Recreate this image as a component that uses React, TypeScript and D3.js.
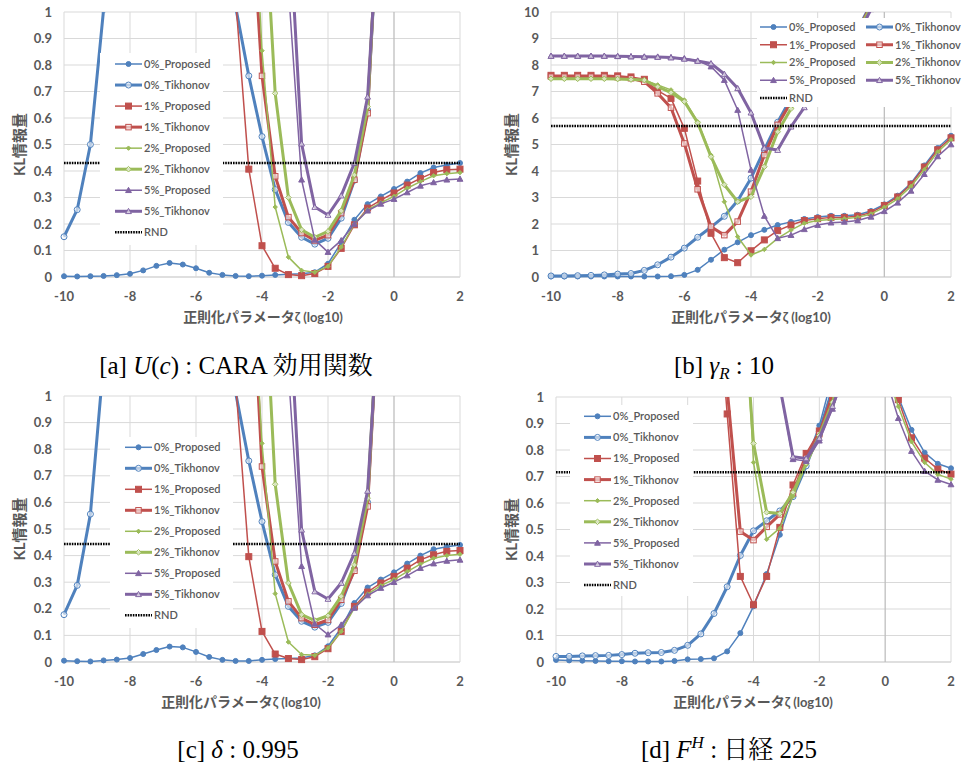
import React from "react";
import * as d3 from "d3";

// 正則化パラメータ ζ (log10)
const zeta = [-10, -9.6, -9.2, -8.8, -8.4, -8, -7.6, -7.2, -6.8, -6.4, -6, -5.6, -5.2, -4.8, -4.4, -4, -3.6, -3.2, -2.8, -2.4, -2, -1.6, -1.2, -0.8, -0.4, 0, 0.4, 0.8, 1.2, 1.6, 2];
const xTicks = [-10, -8, -6, -4, -2, 0, 2];
const yTicksUnit = [0, 0.1, 0.2, 0.3, 0.4, 0.5, 0.6, 0.7, 0.8, 0.9, 1];
const yTicksTen = [0, 1, 2, 3, 4, 5, 6, 7, 8, 9, 10];
const seriesNames = ["0%_Proposed", "0%_Tikhonov", "1%_Proposed", "1%_Tikhonov", "2%_Proposed", "2%_Tikhonov", "5%_Proposed", "5%_Tikhonov"];

// [a] CARA
const aP0 = [0.003, 0.002, 0.003, 0.004, 0.007, 0.012, 0.025, 0.042, 0.053, 0.047, 0.033, 0.016, 0.008, 0.004, 0.003, 0.005, 0.008, 0.010, 0.012, 0.018, 0.050, 0.130, 0.216, 0.275, 0.304, 0.332, 0.360, 0.392, 0.413, 0.423, 0.430];
const aT0 = [0.152, 0.254, 0.500, 1.01, 1.9, 2.7, 3.3, 3.7, 3.9, 3.8, 3.5, 3.0, 2.2, 1.02, 0.759, 0.530, 0.330, 0.206, 0.150, 0.124, 0.146, 0.222, 0.365, 0.630, 1.55, 2.5, 3.4, 4.2, 4.9, 5.5, 6.0];
const aP1 = [4.5, 4.5, 4.6, 4.6, 4.7, 4.7, 4.6, 4.5, 4.3, 4.0, 3.6, 3.0, 2.2, 1.05, 0.407, 0.118, 0.033, 0.009, 0.005, 0.013, 0.040, 0.108, 0.197, 0.260, 0.290, 0.317, 0.347, 0.372, 0.394, 0.405, 0.407];
const aT1 = [4.8, 4.8, 4.9, 4.9, 5.0, 5.0, 4.9, 4.8, 4.6, 4.3, 3.9, 3.4, 2.8, 2.2, 1.56, 0.759, 0.380, 0.226, 0.166, 0.138, 0.158, 0.241, 0.367, 0.618, 1.6, 2.6, 3.5, 4.3, 5.0, 5.6, 6.1];
const aP2 = [4.2, 4.2, 4.3, 4.3, 4.4, 4.4, 4.3, 4.2, 4.0, 3.8, 3.5, 3.1, 2.6, 2.2, 1.83, 0.854, 0.264, 0.075, 0.025, 0.018, 0.040, 0.113, 0.200, 0.254, 0.280, 0.304, 0.335, 0.360, 0.382, 0.390, 0.394];
const aT2 = [4.6, 4.6, 4.7, 4.7, 4.8, 4.8, 4.7, 4.6, 4.4, 4.1, 3.8, 3.3, 2.8, 2.3, 1.9, 1.57, 0.693, 0.300, 0.178, 0.150, 0.172, 0.250, 0.385, 0.643, 1.55, 2.5, 3.4, 4.2, 4.9, 5.5, 6.0];
const aP5 = [5.2, 5.2, 5.3, 5.3, 5.4, 5.4, 5.3, 5.2, 5.0, 4.7, 4.3, 3.8, 3.2, 2.6, 2.0, 1.6, 1.3, 1.09, 0.367, 0.140, 0.094, 0.138, 0.200, 0.250, 0.276, 0.294, 0.319, 0.344, 0.357, 0.367, 0.370];
const aT5 = [5.5, 5.5, 5.6, 5.6, 5.7, 5.7, 5.6, 5.5, 5.3, 5.0, 4.6, 4.1, 3.5, 2.9, 2.4, 2.0, 1.7, 1.41, 0.503, 0.264, 0.234, 0.307, 0.430, 0.680, 1.5, 2.4, 3.3, 4.1, 4.8, 5.4, 5.9];
const rndA = 0.43;

// [b] gamma_R = 10
const bP0 = [0.02, 0.02, 0.02, 0.02, 0.02, 0.02, 0.02, 0.02, 0.02, 0.03, 0.08, 0.27, 0.65, 1.03, 1.31, 1.58, 1.78, 1.96, 2.08, 2.19, 2.26, 2.31, 2.31, 2.35, 2.49, 2.74, 3.07, 3.54, 4.21, 4.87, 5.33];
const bT0 = [0.04, 0.04, 0.05, 0.06, 0.08, 0.11, 0.13, 0.25, 0.46, 0.75, 1.09, 1.50, 1.88, 2.29, 2.88, 3.73, 4.80, 5.84, 6.75, 7.40, 7.90, 8.35, 8.80, 9.35, 10.3, 11.3, 12.3, 13.3, 14.3, 15.3, 16.3];
const bP1 = [7.61, 7.61, 7.61, 7.61, 7.61, 7.59, 7.55, 7.46, 7.03, 6.74, 5.61, 3.62, 1.65, 0.73, 0.54, 0.99, 1.40, 1.75, 1.96, 2.13, 2.20, 2.25, 2.25, 2.30, 2.43, 2.70, 3.02, 3.50, 4.15, 4.80, 5.25];
const bT1 = [7.56, 7.56, 7.56, 7.56, 7.56, 7.54, 7.50, 7.37, 6.93, 6.39, 5.04, 3.31, 1.90, 1.58, 2.09, 3.22, 4.60, 5.74, 6.60, 7.30, 7.85, 8.30, 8.75, 9.30, 10.25, 11.2, 12.2, 13.2, 14.2, 15.2, 16.2];
const bP2 = [7.48, 7.48, 7.48, 7.48, 7.48, 7.47, 7.45, 7.43, 7.25, 7.06, 6.68, 5.86, 4.60, 2.84, 1.52, 0.83, 1.04, 1.46, 1.77, 2.03, 2.13, 2.17, 2.20, 2.25, 2.38, 2.63, 2.95, 3.42, 4.05, 4.72, 5.18];
const bT2 = [7.48, 7.48, 7.48, 7.48, 7.48, 7.47, 7.45, 7.43, 7.18, 6.96, 6.62, 5.82, 4.54, 3.48, 2.84, 3.03, 4.16, 5.48, 6.35, 7.10, 7.70, 8.20, 8.70, 9.25, 10.2, 11.2, 12.2, 13.2, 14.2, 15.2, 16.2];
const bP5 = [8.34, 8.34, 8.34, 8.34, 8.34, 8.33, 8.32, 8.31, 8.31, 8.29, 8.25, 8.16, 7.94, 7.43, 6.30, 4.04, 2.30, 1.46, 1.58, 1.80, 1.96, 2.05, 2.08, 2.13, 2.27, 2.48, 2.80, 3.25, 3.88, 4.55, 5.00];
const bT5 = [8.34, 8.34, 8.34, 8.34, 8.34, 8.33, 8.32, 8.31, 8.30, 8.28, 8.23, 8.15, 8.06, 7.66, 7.12, 6.20, 4.87, 4.79, 5.67, 6.40, 7.10, 7.80, 8.40, 9.10, 10.1, 11.1, 12.1, 13.1, 14.1, 15.1, 16.1];
const rndB = 5.7;

// [c] delta = 0.995
const cP0 = [0.005, 0.003, 0.002, 0.006, 0.009, 0.015, 0.030, 0.045, 0.058, 0.055, 0.038, 0.019, 0.008, 0.004, 0.004, 0.008, 0.011, 0.013, 0.015, 0.025, 0.059, 0.128, 0.222, 0.280, 0.310, 0.337, 0.370, 0.400, 0.424, 0.433, 0.440];
const cT0 = [0.178, 0.288, 0.556, 1.13, 2.0, 2.8, 3.4, 3.8, 4.0, 3.9, 3.6, 3.0, 2.2, 1.013, 0.756, 0.528, 0.328, 0.209, 0.153, 0.131, 0.149, 0.220, 0.350, 0.600, 1.5, 2.4, 3.3, 4.1, 4.8, 5.4, 5.9];
const cP1 = [4.5, 4.5, 4.6, 4.6, 4.7, 4.7, 4.6, 4.5, 4.3, 4.0, 3.6, 3.0, 2.2, 1.05, 0.396, 0.115, 0.030, 0.013, 0.009, 0.020, 0.050, 0.115, 0.209, 0.263, 0.297, 0.322, 0.353, 0.384, 0.403, 0.416, 0.419];
const cT1 = [4.8, 4.8, 4.9, 4.9, 5.0, 5.0, 4.9, 4.8, 4.6, 4.3, 3.9, 3.4, 2.8, 2.3, 1.7, 0.735, 0.378, 0.228, 0.165, 0.140, 0.158, 0.234, 0.343, 0.585, 1.5, 2.5, 3.4, 4.2, 4.9, 5.5, 6.0];
const cP2 = [4.2, 4.2, 4.3, 4.3, 4.4, 4.4, 4.3, 4.2, 4.0, 3.8, 3.5, 3.1, 2.6, 2.2, 1.71, 0.822, 0.257, 0.075, 0.028, 0.025, 0.053, 0.115, 0.203, 0.255, 0.287, 0.310, 0.340, 0.368, 0.390, 0.400, 0.405];
const cT2 = [4.6, 4.6, 4.7, 4.7, 4.8, 4.8, 4.7, 4.6, 4.4, 4.1, 3.8, 3.3, 2.8, 2.3, 1.9, 1.62, 0.668, 0.297, 0.178, 0.156, 0.174, 0.247, 0.365, 0.616, 1.5, 2.4, 3.3, 4.1, 4.8, 5.4, 5.9];
const cP5 = [5.2, 5.2, 5.3, 5.3, 5.4, 5.4, 5.3, 5.2, 5.0, 4.7, 4.3, 3.8, 3.2, 2.6, 2.0, 1.6, 1.3, 1.09, 0.360, 0.143, 0.103, 0.140, 0.203, 0.250, 0.278, 0.300, 0.325, 0.353, 0.370, 0.380, 0.384];
const cT5 = [5.5, 5.5, 5.6, 5.6, 5.7, 5.7, 5.6, 5.5, 5.3, 5.0, 4.6, 4.1, 3.5, 2.9, 2.4, 2.0, 1.7, 1.41, 0.497, 0.265, 0.237, 0.297, 0.409, 0.643, 1.45, 2.4, 3.3, 4.1, 4.8, 5.4, 5.9];
const rndC = 0.444;

// [d] F^H 日経225
const dP0 = [0.008, 0.006, 0.005, 0.004, 0.003, 0.003, 0.002, 0.002, 0.002, 0.004, 0.010, 0.011, 0.014, 0.040, 0.109, 0.210, 0.332, 0.480, 0.630, 0.760, 0.892, 1.08, 1.25, 1.40, 1.40, 1.15, 1.00, 0.876, 0.790, 0.748, 0.731];
const dT0 = [0.021, 0.021, 0.023, 0.024, 0.025, 0.028, 0.033, 0.035, 0.036, 0.044, 0.063, 0.106, 0.183, 0.284, 0.402, 0.495, 0.533, 0.570, 0.624, 0.740, 0.870, 1.03, 1.20, 1.35, 1.45, 1.50, 1.50, 1.45, 1.40, 1.35, 1.30];
const dP1 = [3.0, 3.0, 3.0, 3.0, 3.1, 3.1, 3.0, 2.9, 2.8, 2.6, 2.3, 2.0, 1.58, 0.936, 0.323, 0.216, 0.323, 0.508, 0.668, 0.787, 0.872, 1.00, 1.20, 1.35, 1.35, 1.12, 0.99, 0.846, 0.769, 0.728, 0.709];
const dT1 = [3.2, 3.2, 3.2, 3.2, 3.3, 3.3, 3.2, 3.1, 3.0, 2.8, 2.5, 2.2, 1.8, 1.03, 0.492, 0.460, 0.510, 0.557, 0.636, 0.770, 0.860, 1.01, 1.18, 1.32, 1.42, 1.48, 1.48, 1.43, 1.38, 1.33, 1.28];
const dP2 = [2.8, 2.8, 2.8, 2.8, 2.9, 2.9, 2.8, 2.7, 2.6, 2.5, 2.3, 2.1, 1.9, 1.75, 1.65, 0.753, 0.463, 0.505, 0.625, 0.745, 0.845, 0.970, 1.15, 1.30, 1.30, 1.10, 0.964, 0.831, 0.753, 0.708, 0.690];
const dT2 = [3.0, 3.0, 3.0, 3.0, 3.1, 3.1, 3.0, 2.9, 2.8, 2.6, 2.4, 2.1, 1.9, 1.7, 1.53, 0.825, 0.565, 0.560, 0.640, 0.750, 0.855, 0.980, 1.15, 1.30, 1.40, 1.45, 1.45, 1.40, 1.35, 1.30, 1.25];
const dP5 = [3.3, 3.3, 3.3, 3.3, 3.4, 3.4, 3.3, 3.2, 3.1, 2.9, 2.7, 2.4, 2.1, 1.8, 1.5, 1.3, 1.15, 1.04, 0.765, 0.758, 0.835, 0.955, 1.10, 1.25, 1.25, 1.08, 0.920, 0.796, 0.720, 0.687, 0.670];
const dT5 = [3.5, 3.5, 3.5, 3.5, 3.6, 3.6, 3.5, 3.4, 3.3, 3.1, 2.9, 2.6, 2.3, 2.0, 1.7, 1.45, 1.2, 1.04, 0.775, 0.768, 0.845, 0.965, 1.10, 1.25, 1.35, 1.40, 1.40, 1.35, 1.30, 1.25, 1.20];
const rndD = 0.716;

const BLUE = "#4F81BD";
const RED = "#C0504D";
const GREEN = "#9BBB59";
const PURPLE = "#8064A2";
const TXT = "#595959";
const UI = "Lato, 'Noto Sans CJK JP', sans-serif";
const SERIF = "'Liberation Serif', 'Noto Serif CJK JP', 'Noto Sans CJK JP', serif";

const styles = [
  { color: BLUE, width: 1.5, marker: "circle", filled: true },
  { color: BLUE, width: 3, marker: "circle", filled: false },
  { color: RED, width: 1.5, marker: "square", filled: true },
  { color: RED, width: 3, marker: "square", filled: false },
  { color: GREEN, width: 1.5, marker: "diamond", filled: true },
  { color: GREEN, width: 3, marker: "diamond", filled: false },
  { color: PURPLE, width: 1.5, marker: "triangle", filled: true },
  { color: PURPLE, width: 3, marker: "triangle", filled: false },
];

function Marker({ kind, filled, color, x, y }: any) {
  const fill = filled ? color : "#ffffff";
  const fo = filled ? 1 : 0.6;
  if (kind === "circle") {
    return <circle cx={x} cy={y} r={filled ? 2.5 : 3} fill={fill} fillOpacity={fo} stroke={color} strokeWidth={1} />;
  }
  if (kind === "square") {
    const s = filled ? 6 : 5.5;
    return <rect x={x - s / 2} y={y - s / 2} width={s} height={s} fill={fill} fillOpacity={fo} stroke={color} strokeWidth={1} />;
  }
  if (kind === "diamond") {
    const h = filled ? 2.2 : 2.8;
    return <path d={`M${x},${y - h}L${x + h},${y}L${x},${y + h}L${x - h},${y}Z`} fill={fill} fillOpacity={fo} stroke={color} strokeWidth={1} />;
  }
  const h = 2.9;
  return <path d={`M${x},${y - h}L${x + h},${y + h * 0.8}L${x - h},${y + h * 0.8}Z`} fill={fill} fillOpacity={fo} stroke={color} strokeWidth={1} />;
}

function Panel({ cfg }: any) {
  const x = d3.scaleLinear().domain([-10, 2]).range([cfg.x0, cfg.x1]);
  const y = d3.scaleLinear().domain([0, cfg.yMax]).range([cfg.yBot, cfg.yTop]);
  const line = d3.line<number>().x((_, i) => x(zeta[i])).y((v) => y(v));
  const clipId = "clip-" + cfg.id;
  const fmt = cfg.yMax === 1 ? (v: number) => (v === 0 || v === 1 ? String(v) : v.toFixed(1)) : (v: number) => String(v);
  const lg = cfg.legend;
  const entries = [...seriesNames, "RND"];
  return (
    <g>
      <defs>
        <clipPath id={clipId}>
          <rect x={cfg.x0 - 6} y={cfg.yTop} width={cfg.x1 - cfg.x0 + 12} height={cfg.yBot - cfg.yTop + 6} />
        </clipPath>
      </defs>
      {cfg.yTicks.map((t: number) => (
        <line key={"h" + t} x1={cfg.x0} x2={cfg.x1} y1={y(t)} y2={y(t)} stroke={t === 0 ? "#BFBFBF" : "#D9D9D9"} strokeWidth={1} />
      ))}
      {xTicks.map((t) => (
        <line key={"v" + t} x1={x(t)} x2={x(t)} y1={cfg.yTop} y2={cfg.yBot} stroke={t === 0 ? "#BFBFBF" : "#D9D9D9"} strokeWidth={t === 0 ? 1.3 : 1} />
      ))}
      <g clipPath={`url(#${clipId})`}>
        {cfg.series.map((s: number[], k: number) => {
          const st = styles[k];
          return (
            <g key={"s" + k}>
              <path d={line(s) || ""} fill="none" stroke={st.color} strokeWidth={st.width} strokeLinejoin="round" />
              {s.map((v, i) =>
                v <= cfg.yMax * 1.02 ? (
                  <Marker key={i} kind={st.marker} filled={st.filled} color={st.color} x={x(zeta[i])} y={y(v)} />
                ) : null
              )}
            </g>
          );
        })}
        <line x1={x(zeta[0])} x2={x(zeta[zeta.length - 1])} y1={y(cfg.rnd)} y2={y(cfg.rnd)} stroke="#000" strokeWidth={2.5} strokeDasharray="1.6,1" />
      </g>
      {cfg.yTicks.map((t: number) => (
        <text key={"yl" + t} x={cfg.x0 - 12} y={y(t)} dy="0.36em" textAnchor="end" fontFamily={UI} fontSize={13} fontWeight={700} fill={TXT}>
          {fmt(t)}
        </text>
      ))}
      {xTicks.map((t) => (
        <text key={"xl" + t} x={x(t)} y={cfg.yBot + 24} textAnchor="middle" fontFamily={UI} fontSize={13} fontWeight={700} fill={TXT}>
          {String(t)}
        </text>
      ))}
      <text x={cfg.xTitleX} y={cfg.yBot + 45} textAnchor="middle" fontFamily={UI} fill={TXT} fontWeight={700}>
        <tspan fontSize={14}>正則化パラメータ</tspan>
        <tspan fontSize={13}>{"ζ (log10)"}</tspan>
      </text>
      <text
        transform={`translate(${cfg.yTitleX},${(cfg.yTop + cfg.yBot) / 2}) rotate(-90)`}
        textAnchor="middle"
        dy="0.36em"
        fontFamily={UI}
        fontSize={15}
        fontWeight={700}
        fill={TXT}
      >
        KL情報量
      </text>
      <rect x={lg.left} y={lg.top} width={lg.right - lg.left} height={lg.bottom - lg.top} fill="#ffffff" />
      {entries.map((name, k) => {
        const col = lg.lineX.length === 2 ? k % 2 : 0;
        const row = lg.lineX.length === 2 ? Math.floor(k / 2) : k;
        const lx = lg.lineX[col];
        const ly = lg.rowY0 + row * lg.dy;
        const st = styles[k];
        return (
          <g key={"lg" + k}>
            {st ? (
              <>
                <line x1={lx} x2={lx + 27} y1={ly} y2={ly} stroke={st.color} strokeWidth={st.width} />
                <Marker kind={st.marker} filled={st.filled} color={st.color} x={lx + 13.5} y={ly} />
              </>
            ) : (
              <line x1={lx} x2={lx + 27} y1={ly} y2={ly} stroke="#000" strokeWidth={2.5} strokeDasharray="1.6,1" />
            )}
            <text x={lx + 29} y={ly} dy="0.36em" fontFamily={UI} fontSize={11} fontWeight={600} fill={TXT}>
              {name}
            </text>
          </g>
        );
      })}
    </g>
  );
}

const panels = [
  {
    id: "a", x0: 64, x1: 460, yTop: 12, yBot: 277, yMax: 1, yTicks: yTicksUnit, rnd: rndA,
    series: [aP0, aT0, aP1, aT1, aP2, aT2, aP5, aT5], xTitleX: 263, yTitleX: 20,
    legend: { left: 100, top: 53, right: 223, bottom: 245, lineX: [115], rowY0: 64, dy: 21.04 },
  },
  {
    id: "b", x0: 551, x1: 951, yTop: 12, yBot: 277, yMax: 10, yTicks: yTicksTen, rnd: rndB,
    series: [bP0, bT0, bP1, bT1, bP2, bT2, bP5, bT5], xTitleX: 751, yTitleX: 512,
    legend: { left: 757, top: 18, right: 963, bottom: 107, lineX: [760, 866], rowY0: 27, dy: 17.75 },
  },
  {
    id: "c", x0: 64, x1: 460, yTop: 396, yBot: 662, yMax: 1, yTicks: yTicksUnit, rnd: rndC,
    series: [cP0, cT0, cP1, cT1, cP2, cT2, cP5, cT5], xTitleX: 241, yTitleX: 20,
    legend: { left: 110, top: 437, right: 233, bottom: 628, lineX: [125], rowY0: 447.3, dy: 21 },
  },
  {
    id: "d", x0: 556, x1: 951, yTop: 397, yBot: 662, yMax: 1, yTicks: yTicksUnit, rnd: rndD,
    series: [dP0, dT0, dP1, dT1, dP2, dT2, dP5, dT5], xTitleX: 753, yTitleX: 512,
    legend: { left: 570, top: 405, right: 693, bottom: 596, lineX: [584], rowY0: 416.3, dy: 21.1 },
  },
];

export default function App() {
  const cap = { fontFamily: SERIF, fontSize: 25, fill: "#000" };
  return (
    <svg width={963} height={769} style={{ position: "absolute", left: 0, top: 0, background: "#fff" }}>
      <rect width={963} height={769} fill="#fff" />
      {panels.map((p) => (
        <Panel key={p.id} cfg={p} />
      ))}
      <text x={236} y={374} textAnchor="middle" {...cap}>
        {"[a] "}
        <tspan fontStyle="italic">U</tspan>
        {"("}
        <tspan fontStyle="italic">c</tspan>
        {") : CARA 効用関数"}
      </text>
      <text x={724} y={374} textAnchor="middle" {...cap}>
        {"[b] "}
        <tspan fontStyle="italic">γ</tspan>
        <tspan fontStyle="italic" fontSize={17} dy={5}>R</tspan>
        <tspan dy={-5}>{" : 10"}</tspan>
      </text>
      <text x={238} y={758} textAnchor="middle" {...cap}>
        {"[c] "}
        <tspan fontStyle="italic">δ</tspan>
        {" : 0.995"}
      </text>
      <text x={729} y={758} textAnchor="middle" {...cap}>
        {"[d] "}
        <tspan fontStyle="italic">F</tspan>
        <tspan fontStyle="italic" fontSize={17} dy={-10}>H</tspan>
        <tspan dy={10}>{" : 日経 225"}</tspan>
      </text>
    </svg>
  );
}
